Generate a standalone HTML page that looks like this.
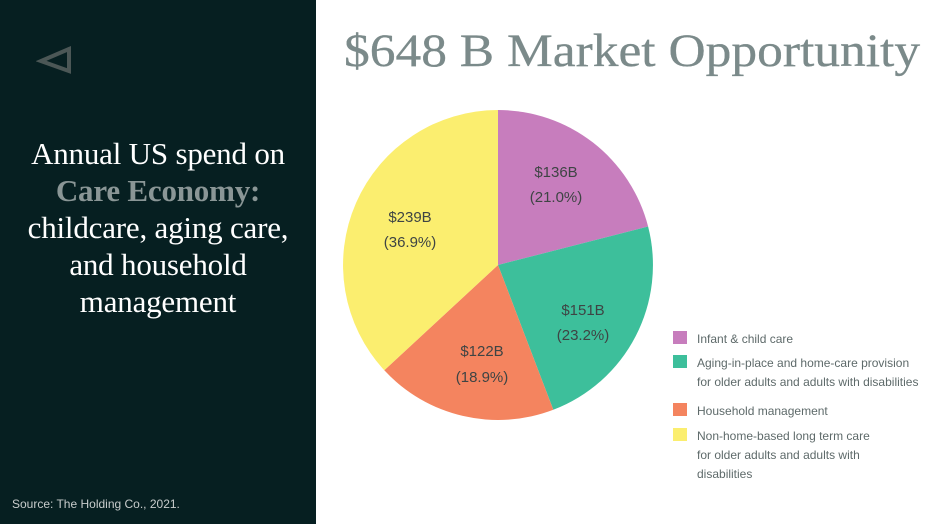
<!DOCTYPE html>
<html><head><style>
body{margin:0;width:937px;height:524px;overflow:hidden;background:#fff;position:relative;font-family:"Liberation Sans",sans-serif}
.left{position:absolute;left:0;top:0;width:316px;height:524px;background:#061f21}
.lt{position:absolute;left:0;top:135px;width:316px;text-align:center;color:#fff;font-family:"Liberation Serif",serif;font-size:31px;line-height:37px;letter-spacing:-0.2px}
.src{position:absolute;left:12px;top:497px;color:#c8cccc;font-size:12px}
.title{position:absolute;left:344px;top:24px;font-family:"Liberation Serif",serif;font-size:47px;color:#7b8a8a;white-space:nowrap;transform:scaleX(1.095);transform-origin:left top;-webkit-text-stroke:0.3px #7b8a8a}
</style></head><body>
<div class="left">
<svg style="position:absolute;left:36px;top:44px" width="36" height="30"><path d="M33 5 L5 17 L33 27 Z" fill="none" stroke="#4b5756" stroke-width="4"/></svg>
<div class="lt">Annual US spend on<br><b style="color:#8a9696">Care Economy:</b><br>childcare, aging care,<br>and household<br>management</div>
<div class="src">Source: The Holding Co., 2021.</div>
</div>
<div class="title">$648 B Market Opportunity</div>
<svg style="position:absolute;left:0;top:0" width="937" height="524" font-family="Liberation Sans, sans-serif">
<path d="M498 265 L498 110 A155 155 0 0 1 648.1 226.5Z" fill="#c77dbd"/>
<path d="M498 265 L648.1 226.5 A155 155 0 0 1 553.3 409.8Z" fill="#3dbf9b"/>
<path d="M498 265 L553.3 409.8 A155 155 0 0 1 384.3 370.3Z" fill="#f4845f"/>
<path d="M498 265 L384.3 370.3 A155 155 0 0 1 498 110Z" fill="#fbee6f"/>
<g fill="#3e4444" font-size="15" text-anchor="middle">
<text x="556" y="177">$136B</text><text x="556" y="202">(21.0%)</text>
<text x="583" y="315">$151B</text><text x="583" y="340">(23.2%)</text>
<text x="482" y="356">$122B</text><text x="482" y="382">(18.9%)</text>
<text x="410" y="222">$239B</text><text x="410" y="247">(36.9%)</text>
</g>
<rect x="673" y="331" width="14" height="13" fill="#c77dbd"/>
<rect x="673" y="355" width="14" height="13" fill="#3dbf9b"/>
<rect x="673" y="403" width="14" height="13" fill="#f4845f"/>
<rect x="673" y="428" width="14" height="13" fill="#fbee6f"/>
<g fill="#5e6a6a" font-size="12">
<text x="697" y="343">Infant &amp; child care</text>
<text x="697" y="367">Aging-in-place and home-care provision</text>
<text x="697" y="386">for older adults and adults with disabilities</text>
<text x="697" y="415">Household management</text>
<text x="697" y="440">Non-home-based long term care</text>
<text x="697" y="459">for older adults and adults with</text>
<text x="697" y="478">disabilities</text>
</g>
</svg>
</body></html>
